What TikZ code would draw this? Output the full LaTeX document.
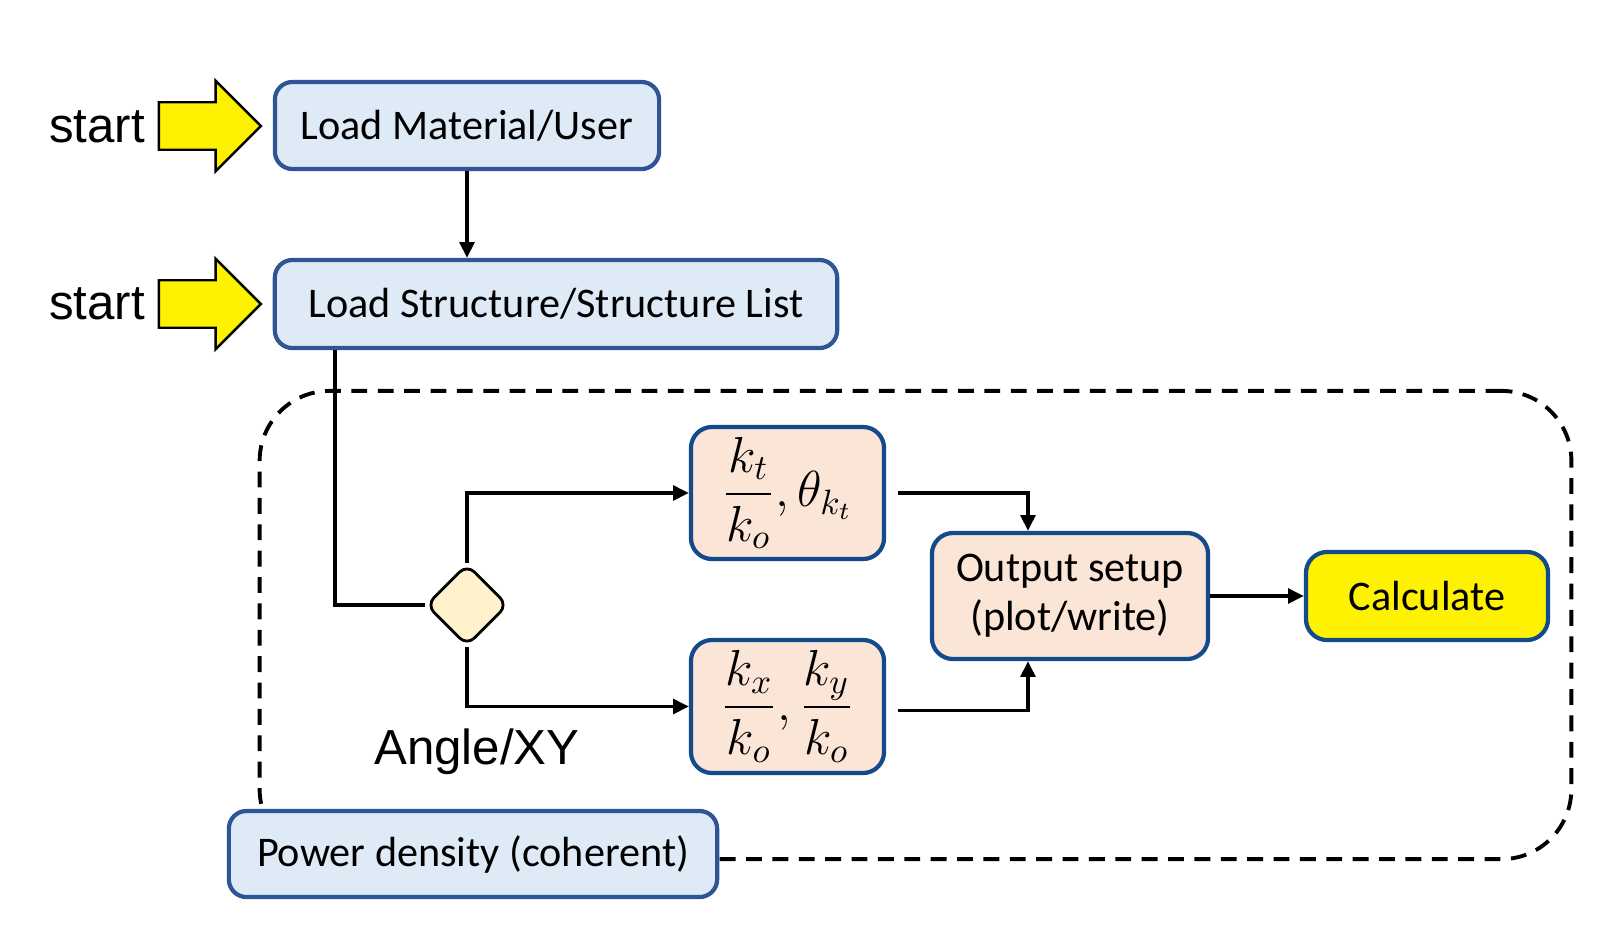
\documentclass[tikz,border=0pt]{standalone}
\usepackage{amsmath}
\usepackage{fontspec}
\setmainfont{Carlito}
\newfontfamily\arialfont{Liberation Sans}
\usetikzlibrary{arrows.meta, shapes.geometric, shapes.arrows, positioning}
\definecolor{BoxBlue}{RGB}{222,235,247}
\definecolor{BoxEdge}{RGB}{47,85,151}
\definecolor{StepPeach}{RGB}{251,229,214}
\definecolor{StepEdge}{RGB}{18,74,140}
\definecolor{ChoiceFill}{RGB}{255,242,204}

\begin{document}
\begin{tikzpicture}[x=0.01cm,y=-0.01cm,
	loadbox/.style={draw=BoxEdge,line width=1.2pt,fill=BoxBlue,rounded corners=5pt,inner sep=0pt,font=\fontsize{12}{14}\selectfont},
	stepbox/.style={draw=StepEdge,line width=1.2pt,fill=StepPeach,rounded corners=6pt,inner sep=0pt,align=center,font=\fontsize{12}{14}\selectfont},
	mathbox/.style={stepbox,font=\fontsize{14.5}{16}\selectfont},
	startarrow/.style={single arrow,draw=black,line width=0.7pt,fill=yellow,minimum height=1.02cm,inner xsep=0pt,inner ysep=0.225cm,single arrow head extend=0.215cm},
	choice/.style={diamond,draw=black,line width=0.8pt,fill=ChoiceFill,rounded corners=3pt,minimum size=0.82cm,inner sep=0pt},
	region/.style={draw=black,line width=1.1pt,dash pattern=on 4.5pt off 3pt,rounded corners=0.7cm,inner sep=0pt},
	label/.style={font=\arialfont\fontsize{14}{16}\selectfont,inner sep=0pt},
	link/.style={line width=1pt},
	arr/.style={link,-{Triangle[length=4.5pt,width=4.2pt]}}]
\useasboundingbox (0,0) rectangle (1600,933);
% dashed frame first, so boxes sit on top of it
\node[region,minimum width=13.11cm,minimum height=4.68cm] (frame) at (915.5,625){};
% loading
\node[label] (start1) at (97,127){start};
\node[label] (start2) at (97,304){start};
\node[startarrow] (go1) at (198,126){};
\node[startarrow] (go2) at (198,304){};
\node[loadbox,minimum width=3.84cm,minimum height=0.87cm] (mat) at (467,125.5){Load Material/User};
\node[loadbox,minimum width=5.62cm,minimum height=0.88cm] (struct) at (556,304){Load Structure/Structure List};
% choice and steps
\node[choice] (choose) at (467,605){};
\node[label] (mode) at (477,752){Angle/XY};
\node[mathbox,minimum width=1.93cm,minimum height=1.32cm] (angle) at (787.5,493){$\dfrac{k_t}{k_o},\theta_{k_t}$};
\node[mathbox,minimum width=1.93cm,minimum height=1.33cm] (xy) at (787.5,706.5){$\dfrac{k_x}{k_o},\dfrac{k_y}{k_o}$};
\node[stepbox,minimum width=2.76cm,minimum height=1.26cm] (out) at (1070,596){Output setup\\(plot/write)};
\node[stepbox,fill=yellow,minimum width=2.42cm,minimum height=0.88cm] (calc) at (1427,596){Calculate};
\node[loadbox,minimum width=4.88cm,minimum height=0.86cm] (power) at (473,854){Power density (coherent)};
% connectors
\draw[arr] (mat.south) -- (mat.south |- struct.north);
\draw[link] ([xshift=0.62cm]struct.south west) |- (choose.west);
\draw[arr] (choose.north) |- (angle.west);
\draw[arr] (choose.south) |- (xy.west);
\draw[arr] ([xshift=0.12cm]angle.east) -| ([xshift=-0.42cm]out.north);
\draw[arr] ([xshift=0.12cm,yshift=-0.04cm]xy.east) -| ([xshift=-0.42cm]out.south);
\draw[arr] (out.east) -- (calc.west);
\end{tikzpicture}
\end{document}
